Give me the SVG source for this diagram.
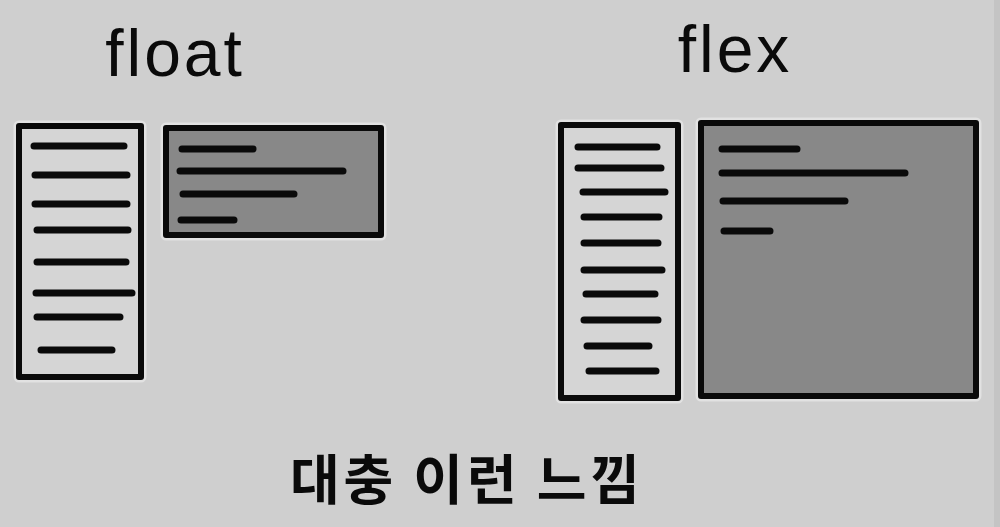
<svg xmlns="http://www.w3.org/2000/svg" width="1000" height="527" viewBox="0 0 1000 527">
<style>
.box{stroke:#0a0a0a;stroke-width:6;stroke-linejoin:round}
.light{fill:#d5d5d5}
.dark{fill:#888888}
.halo{fill:none;stroke:#e2e2e2;stroke-width:11;stroke-linejoin:round}
.ln{stroke:#0a0a0a;stroke-width:7;stroke-linecap:round;fill:none}
.t{font-family:"Liberation Sans","Noto Sans",sans-serif;fill:#0a0a0a}
.k{font-family:"Noto Sans CJK KR",sans-serif;fill:#0a0a0a;font-weight:700}
</style>
<rect x="0" y="0" width="1000" height="527" fill="#cfcfcf"/>
<rect x="994" y="0" width="6" height="527" fill="#c4c4c4"/>

<g id="title-float"><text class="t" x="175" y="76" font-size="66" text-anchor="middle" letter-spacing="3">float</text></g>
<g id="title-flex"><text class="t" x="735" y="72" font-size="66" text-anchor="middle" letter-spacing="3">flex</text></g>

<g id="float-sidebar">
<rect class="halo" x="19" y="126" width="122" height="251"/>
<rect class="box light" x="19" y="126" width="122" height="251"/>
<path class="ln" d="M34 146H124M35 175H127M35 204H127M37 230H128M37 262H126M36 293H132M37 317H120M41 350H112"/>
</g>

<g id="float-content">
<rect class="halo" x="166" y="128" width="215" height="107"/>
<rect class="box dark" x="166" y="128" width="215" height="107"/>
<path class="ln" d="M182 149H253M180 171H343M183 194H294M181 220H234"/>
</g>

<g id="flex-sidebar">
<rect class="halo" x="561" y="125" width="117" height="273"/>
<rect class="box light" x="561" y="125" width="117" height="273"/>
<path class="ln" d="M578 147H657M578 168H661M583 192H665M584 217H659M584 243H658M584 270H662M586 294H655M584 320H658M587 346H649M589 371H656"/>
</g>

<g id="flex-content">
<rect class="halo" x="701" y="123" width="275" height="273"/>
<rect class="box dark" x="701" y="123" width="275" height="273"/>
<path class="ln" d="M722 149H797M722 173H905M723 201H845M724 231H770"/>
</g>

<g id="caption"><text class="k" x="290" y="500" font-size="54" textLength="350" lengthAdjust="spacing">대충 이런 느낌</text></g>
<g id="connectors"></g>
</svg>
